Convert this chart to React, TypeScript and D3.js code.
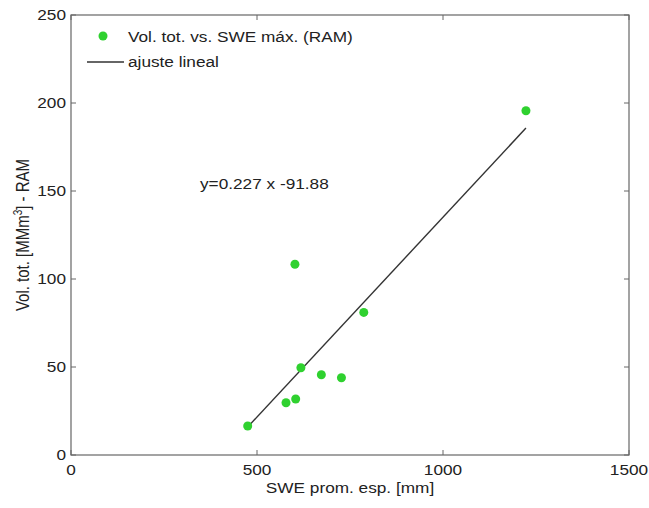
import React from "react";
import * as d3 from "d3";

const sweValues = [475, 578, 604, 618, 673, 727, 787, 602, 1223];
const volValues = [16.5, 29.7, 31.8, 49.6, 45.6, 43.9, 81, 108.4, 195.6];
const fitSlope = 0.227;
const fitIntercept = -91.88;
const fitRange = [475, 1223];
const xTicks = [0, 500, 1000, 1500];
const yTicks = [0, 50, 100, 150, 200, 250];
const seriesLabel = "Vol. tot. vs. SWE máx. (RAM)";
const fitLabel = "ajuste lineal";
const eqLabel = "y=0.227 x -91.88";

const SX = 1.23;

function T({ x, y, anchor = "start", size = 14, children }: any) {
  return (
    <text transform={`translate(${x},${y}) scale(${SX},1)`} fontSize={size} textAnchor={anchor} fill="#222">
      {children}
    </text>
  );
}

export default function App() {
  const W = 649, H = 508;
  const L = 71, R = 629, T0 = 15, B = 455;
  const x = d3.scaleLinear().domain([0, 1500]).range([L, R]);
  const y = d3.scaleLinear().domain([0, 250]).range([B, T0]);
  const font = "'Liberation Sans', Arial, Helvetica, sans-serif";
  const axisColor = "#666";
  const line = d3.line<number>().x((d) => x(d)).y((d) => y(fitSlope * d + fitIntercept));
  const tl = 5;
  return (
    <svg width={W} height={H} style={{ position: "absolute", left: 0, top: 0, background: "#fff" }} fontFamily={font}>
      <rect x={0} y={0} width={W} height={H} fill="#fff" />
      <rect x={L} y={T0} width={R - L} height={B - T0} fill="none" stroke={axisColor} strokeWidth={1.2} />
      {xTicks.map((t) => (
        <g key={"x" + t}>
          <line x1={x(t)} x2={x(t)} y1={B} y2={B - tl} stroke={axisColor} />
          <line x1={x(t)} x2={x(t)} y1={T0} y2={T0 + tl} stroke={axisColor} />
          <T x={x(t)} y={475} anchor="middle">{t}</T>
        </g>
      ))}
      {yTicks.map((t) => (
        <g key={"y" + t}>
          <line x1={L} x2={L + tl} y1={y(t)} y2={y(t)} stroke={axisColor} />
          <line x1={R} x2={R - tl} y1={y(t)} y2={y(t)} stroke={axisColor} />
          <T x={66} y={y(t) + 5} anchor="end">{t}</T>
        </g>
      ))}
      <path d={line(fitRange) || ""} stroke="#333" strokeWidth={1.4} fill="none" />
      {sweValues.map((v, i) => (
        <circle key={i} cx={x(v)} cy={y(volValues[i])} r={4.5} fill="#2fd12f" />
      ))}
      <T x={200} y={189}>{eqLabel}</T>
      <circle cx={103} cy={36} r={4.5} fill="#2fd12f" />
      <T x={128} y={42}>{seriesLabel}</T>
      <line x1={87} x2={124} y1={62} y2={62} stroke="#333" strokeWidth={1.4} />
      <T x={128} y={67}>{fitLabel}</T>
      <T x={(L + R) / 2} y={493} anchor="middle">SWE prom. esp. [mm]</T>
      <text transform={`translate(29,${(T0 + B) / 2}) rotate(-90) scale(1,${SX})`} fontSize={15} textAnchor="middle" fill="#222">
        Vol. tot. [MMm<tspan dy={-6} fontSize={10}>3</tspan><tspan dy={6}>] - RAM</tspan>
      </text>
    </svg>
  );
}
